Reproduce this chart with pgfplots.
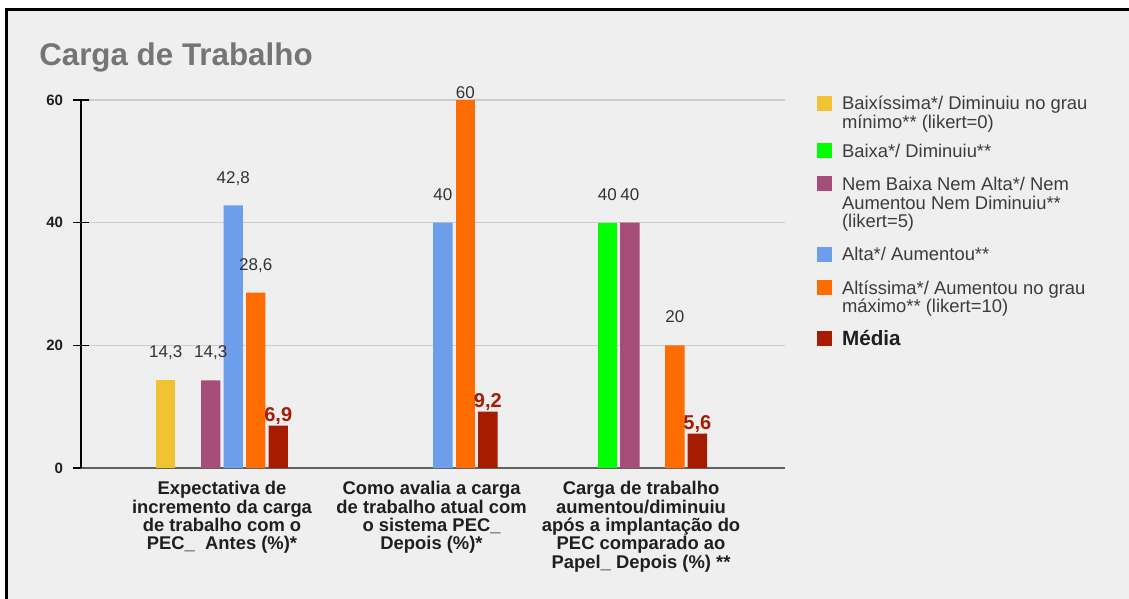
\documentclass[border=0pt]{standalone}
\usepackage{fontspec}
\setmainfont{Liberation Sans}
\usepackage{pgfplots}
\pgfplotsset{compat=1.18}

\definecolor{cBg}{HTML}{EFEFEF}
\definecolor{cGrid}{HTML}{CCCCCC}
\definecolor{cTitle}{HTML}{757575}
\definecolor{cText}{HTML}{333333}
\definecolor{cLegend}{HTML}{3C3C3C}
\definecolor{cYellow}{HTML}{F1C232}
\definecolor{cGreen}{HTML}{00FF00}
\definecolor{cPurple}{HTML}{A64D79}
\definecolor{cBlue}{HTML}{6D9EEB}
\definecolor{cOrange}{HTML}{FF6D01}
\definecolor{cRed}{HTML}{A61C00}

% multi-line legend text, baseline on its first line
\newcommand{\legtext}[1]{\begin{tabular}[t]{@{}l@{}}#1\end{tabular}}
% extra room above an entry that follows a multi-line entry
\newcommand{\after}[1]{\rule{0pt}{\dimexpr 9.3pt + #1\relax}}

\begin{document}
\begin{tikzpicture}
% canvas
\begin{scope}[x=0.75pt,y=-0.75pt]
  \fill[white] (0,0) rectangle (1129,599);
  \fill[cBg] (6.5,9.7) rectangle (1129,599);
  \draw[black, line width=2pt] (6.5,599) -- (6.5,9.7) -- (1129,9.7);
\end{scope}

\node[anchor=base west, inner sep=0pt, text=cTitle,
      font=\fontsize{23.5}{28}\selectfont\bfseries] at (29.25pt,-49.1pt) {Carga de Trabalho};

\begin{axis}[
  at={(60.75pt,-351pt)}, anchor=south west,
  scale only axis, width=528pt, height=276pt,
  xmin=-0.673, xmax=2.687, ymin=0, ymax=60,
  clip=false,
  ybar, bar width=14.6pt,
  /pgf/number format/.cd, use comma, assume math mode=true, /pgfplots/.cd,
  axis lines*=left,
  axis line style={-},
  x axis line style={draw=black!62, line width=1.3pt},
  y axis line style={draw=black, line width=1.1pt},
  xtick={0,1,2},
  major x tick style={draw=none},
  xticklabels={
    {Expectativa de\\incremento da carga\\de trabalho com o\\PEC\_\ \ Antes (\%)*},
    {Como avalia a carga\\de trabalho atual com\\o sistema PEC\_\\Depois (\%)*},
    {Carga de trabalho\\aumentou/diminuiu\\após a implantação do\\PEC comparado ao\\Papel\_ Depois (\%) **}},
  xticklabel style={font=\fontsize{13.8}{13.8}\selectfont\bfseries, align=center,
    anchor=north, inner sep=0pt, yshift=2.2pt, text=black!88},
  ytick={0,20,40,60},
  ytick align=center, major tick length=12pt,
  major y tick style={draw=black, line width=1pt},
  yticklabel style={font=\fontsize{11.25}{13}\selectfont\bfseries, anchor=east,
    inner sep=0pt, xshift=-7.3pt, text=black!88},
  ymajorgrids, grid style={draw=cGrid, line width=1pt},
  nodes near coords,
  every node near coord/.append style={anchor=base, inner sep=0pt, yshift=16.8pt,
    text=cText, font=\fontsize{12.75}{14}\selectfont},
  legend image code/.code={\fill[#1,draw=none] (0pt,-0.7pt) rectangle (11.25pt,10.55pt);},
  legend style={at={(1.0455,1.018)}, anchor=north west, draw=none, fill=none,
    inner sep=0pt, outer sep=0pt, row sep=9.4pt,
    font=\fontsize{13.8}{13.1}\selectfont, text=cLegend,
    cells={anchor=base west, inner sep=0pt},
    /tikz/every odd column/.append style={column sep=5.5pt}},
]
\addplot[fill=cYellow, draw=none, bar shift=-42.19pt] coordinates {(0,14.3)};
\addlegendentry{\legtext{Baixíssima*/ Diminuiu no grau\\mínimo** (likert=0)}}
\addplot[fill=cGreen, draw=none, bar shift=-25.31pt] coordinates {(2,40)};
\addlegendentry{\legtext{\after{11.6pt}Baixa*/ Diminuiu**}}
\addplot[fill=cPurple, draw=none, bar shift=-8.44pt] coordinates {(0,14.3) (2,40)};
\addlegendentry{\legtext{Nem Baixa Nem Alta*/ Nem\\Aumentou Nem Diminuiu**\\(likert=5)}}
\addplot[fill=cBlue, draw=none, bar shift=8.44pt] coordinates {(0,42.8) (1,40)};
\addlegendentry{\legtext{\after{28.4pt}Alta*/ Aumentou**}}
\addplot[fill=cOrange, draw=none, bar shift=25.31pt] coordinates {(0,28.6) (2,20)};
\addlegendentry{\legtext{Altíssima*/ Aumentou no grau\\máximo** (likert=10)}}
\addplot[fill=cRed, draw=none, bar shift=42.19pt,
  every node near coord/.append style={yshift=-13.6pt, text=cRed,
    font=\fontsize{15}{17}\selectfont\bfseries}] coordinates {(0,6.9) (1,9.2) (2,5.6)};
\addlegendentry{\legtext{\after{14pt}\fontsize{15.5}{15.5}\selectfont\bfseries\color{black!88}Média}}
% the 60% bar reaches the top of the scale: its label sits right on it
\addplot[fill=cOrange, draw=none, bar shift=25.31pt, forget plot,
  every node near coord/.append style={yshift=-15.3pt}] coordinates {(1,60)};
\end{axis}

\pgfresetboundingbox
\path[use as bounding box] (0,0) rectangle (846.75pt,-449.25pt);
\end{tikzpicture}
\end{document}
